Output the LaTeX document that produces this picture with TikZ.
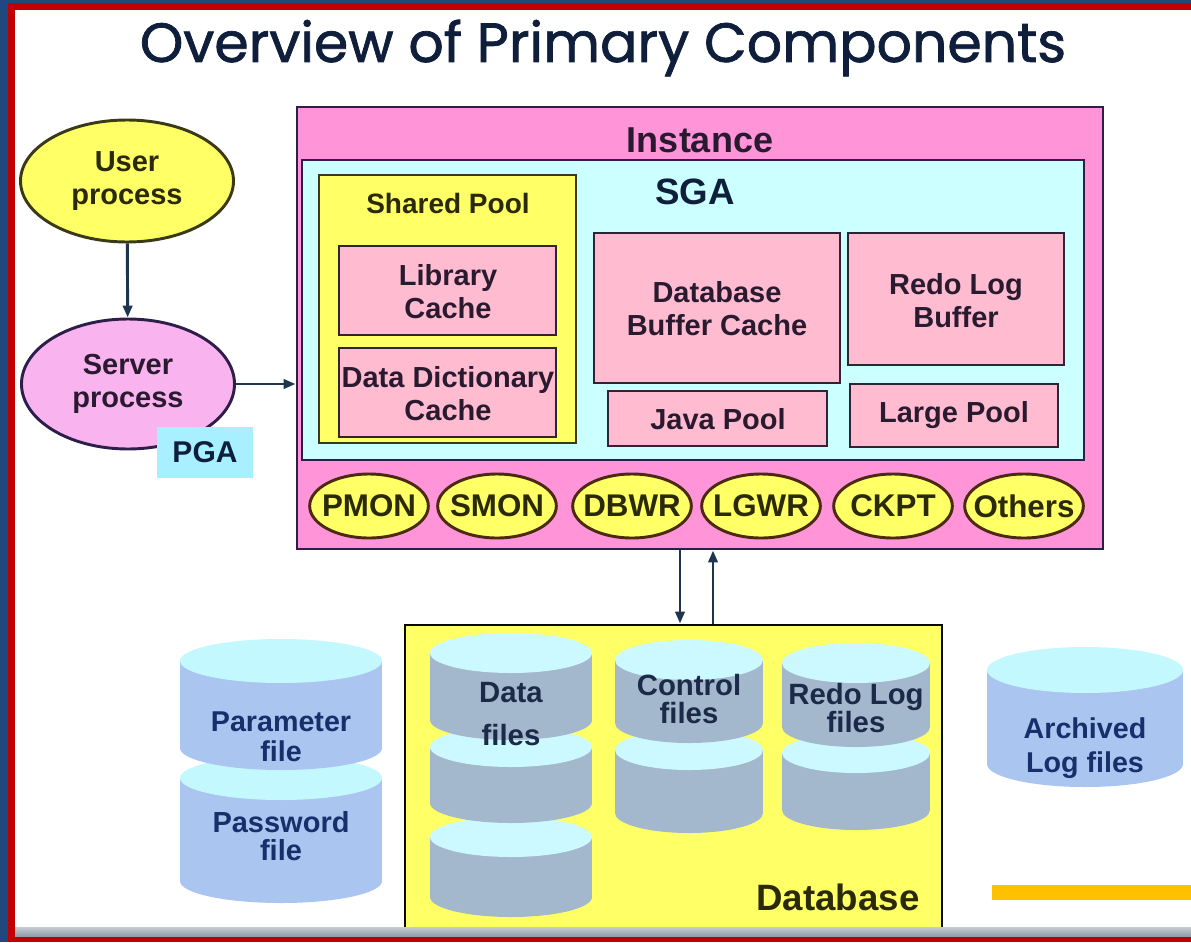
\documentclass[tikz,border=0pt]{standalone}
\usepackage{fontspec}
\setmainfont{Liberation Sans}
\newfontfamily\titlefont[FakeBold=1.3]{Poppins}
\usetikzlibrary{fit,arrows.meta,shapes.geometric}

\definecolor{frameblue}{HTML}{1F497D}
\definecolor{framered}{HTML}{C00000}
\definecolor{barlight}{HTML}{C4CBD2}
\definecolor{bardark}{HTML}{8E99A4}
\definecolor{titleink}{HTML}{0F1E3A}
\definecolor{instfill}{HTML}{FF94D8}
\definecolor{instline}{HTML}{2D1E4A}
\definecolor{sgafill}{HTML}{CCFFFF}
\definecolor{ylw}{HTML}{FFFF66}
\definecolor{olive}{HTML}{3A3A18}
\definecolor{pinkfill}{HTML}{FFBBD0}
\definecolor{pinkline}{HTML}{2E2433}
\definecolor{pinkink}{HTML}{2A1A30}
\definecolor{procline}{HTML}{4A2A10}
\definecolor{procink}{HTML}{2A2A08}
\definecolor{srvfill}{HTML}{F9B4F0}
\definecolor{pgafill}{HTML}{A8F0FF}
\definecolor{arrowink}{HTML}{1E3550}
\definecolor{dbbody}{HTML}{A3B8CC}
\definecolor{dbtop}{HTML}{CCF8FF}
\definecolor{dbink}{HTML}{1A2A48}
\definecolor{filebody}{HTML}{A9C5F0}
\definecolor{filetop}{HTML}{C4F8FF}
\definecolor{fileink}{HTML}{15306A}
\definecolor{goldbar}{HTML}{FFC000}

% one segment of a stacked disk symbol: centre x, top y, bottom y, radii, colours
\newcommand\diskseg[7]{%
  \fill[#6] (#1-#4,#2) rectangle (#1+#4,#3);
  \fill[#6] (#1,#3) ellipse [x radius=#4, y radius=#5];
  \fill[#7] (#1,#2) ellipse [x radius=#4, y radius=#5];}

\newcommand\lblfont{\fontsize{21.75pt}{24.75pt}\selectfont\bfseries}

\begin{document}
\begin{tikzpicture}[x=0.75pt,y=-0.75pt,
  box/.style={draw=pinkline, fill=pinkfill, line width=2.2pt, inner sep=0pt},
  boxlbl/.style={align=center, text=pinkink, font=\lblfont, inner sep=0pt},
  procell/.style={ellipse, draw=procline, fill=ylw, line width=2.2pt,
    minimum width=89pt, minimum height=48pt, inner sep=0pt},
  proclbl/.style={text=procink, inner sep=0pt,
    font=\fontsize{23.5pt}{26pt}\selectfont\bfseries},
  arr/.style={draw=arrowink, line width=2.2pt,
    -{Triangle[length=9pt,width=7pt]}},
  disktext/.style={align=center, text=dbink, inner sep=0pt},
  filetext/.style={align=center, text=fileink, inner sep=0pt}]

\useasboundingbox (0,0) rectangle (1191,942);
\fill[white] (0,0) rectangle (1191,942);

% slide frame
\fill[frameblue] (0,0) rectangle (1191,3);
\fill[frameblue] (0,0) rectangle (8,942);
\fill[framered] (8,3) rectangle (1191,10);
\fill[framered] (8,3) rectangle (15,942);

% title
\node[anchor=base, text=titleink, inner sep=0pt,
  font=\titlefont\fontsize{41.5pt}{44pt}\selectfont] (title) at (603,62)
  {Overview of Primary Components};

% client side
\node[ellipse, draw=olive, fill=ylw, line width=2.2pt, minimum width=159.75pt,
  minimum height=91.5pt, inner sep=0pt, align=center, text=procink,
  font=\lblfont] (user) at (127,181) {User\\process};
\node[ellipse, draw=instline, fill=srvfill, line width=2.2pt, minimum width=159.75pt,
  minimum height=97.5pt, inner sep=0pt, align=center, text=pinkink,
  font=\lblfont] (server) at (128,384) {Server\\process};
\node[fill=pgafill, inner sep=0pt, minimum width=72pt, minimum height=38.25pt,
  text=titleink, font=\fontsize{22.5pt}{26pt}\selectfont\bfseries]
  (pga) at (205,452.5) {PGA};

% instance
\node[draw=instline, fill=instfill, line width=2.2pt, inner sep=0pt,
  fit={(297,107) (1103,549)}] (inst) {};
\node[text=pinkink, font=\fontsize{27pt}{30pt}\selectfont\bfseries] (instlbl)
  at (700,140) {Instance};
\node[draw=instline, fill=sgafill, line width=2.2pt, inner sep=0pt,
  fit={(302,160) (1084,460)}] (sga) {};
\node[text=titleink, font=\fontsize{27.5pt}{30pt}\selectfont\bfseries] (sgalbl)
  at (695,192) {SGA};

% shared pool
\node[draw=olive, fill=ylw, line width=2.2pt, inner sep=0pt,
  fit={(319,175) (576,443)}] (shared) {};
\node[text=procink, font=\fontsize{21pt}{24pt}\selectfont\bfseries] (sharedlbl)
  at (448,203) {Shared Pool};
\node[box, fit={(339,246) (556,335)}] (libc) {};
\node[boxlbl] (libclbl) at (448,292) {Library\\Cache};
\node[box, fit={(339,348) (556,437)}] (ddc) {};
\node[boxlbl] (ddclbl) at (448,394) {Data Dictionary\\Cache};

% other SGA areas
\node[box, fit={(594,233) (840,383)}] (dbc) {};
\node[boxlbl] (dbclbl) at (717,309) {Database\\Buffer Cache};
\node[box, fit={(848,233) (1064,365)}] (rlb) {};
\node[boxlbl] (rlblbl) at (956,301) {Redo Log\\Buffer};
\node[box, fit={(608,391) (827,446)}] (java) {};
\node[boxlbl] (javalbl) at (718,419) {Java Pool};
\node[box, fit={(850,384) (1058,447)}] (large) {};
\node[boxlbl] (largelbl) at (954,415) {Large Pool};

% background processes
\foreach \nm/\cx/\txt in {pmon/369/PMON, smon/497/SMON, dbwr/632/DBWR,
    lgwr/761/LGWR, ckpt/893/CKPT, others/1024/Others} {
  \node[procell] (\nm) at (\cx,506) {};
  \node[proclbl] (\nm lbl) at (\nm.center) {\txt};
}

% database
\node[draw=black!85!olive, fill=ylw, line width=2.2pt, inner sep=0pt,
  fit={(405,625) (942,935)}] (db) {};
\node[text=procink, font=\fontsize{27.5pt}{30pt}\selectfont\bfseries] (dblbl)
  at (838,897) {Database};

% data files
\diskseg{511}{837}{897}{81}{20}{dbbody}{dbtop}
\diskseg{511}{747}{803}{81}{20}{dbbody}{dbtop}
\diskseg{511}{653}{720}{81}{20}{dbbody}{dbtop}
\node[disktext, font=\fontsize{22pt}{32pt}\selectfont\bfseries] (datafiles)
  at (511,714) {Data\\files};

% control files
\diskseg{689}{750}{813}{74}{20}{dbbody}{dbtop}
\diskseg{689}{660}{723}{74}{20}{dbbody}{dbtop}
\node[disktext, font=\fontsize{22pt}{20.5pt}\selectfont\bfseries] (ctlfiles)
  at (689,699) {Control\\files};

% redo log files
\diskseg{856}{753}{810}{74}{20}{dbbody}{dbtop}
\diskseg{856}{663}{727}{74}{20}{dbbody}{dbtop}
\node[disktext, font=\fontsize{22pt}{20.5pt}\selectfont\bfseries] (redofiles)
  at (856,708) {Redo Log\\files};

% parameter and password files
\diskseg{281}{778}{881}{101}{22}{filebody}{filetop}
\diskseg{281}{661}{748}{101}{22}{filebody}{filetop}
\node[filetext, font=\fontsize{21.5pt}{22.5pt}\selectfont\bfseries] (paramfile)
  at (281,737) {Parameter\\file};
\node[filetext, font=\fontsize{21.75pt}{21pt}\selectfont\bfseries] (pwfile)
  at (281,836) {Password\\file};

% archived log files
\diskseg{1085}{670}{764}{98}{23}{filebody}{filetop}
\node[filetext, font=\fontsize{21.5pt}{25.5pt}\selectfont\bfseries] (archfiles)
  at (1085,748) {Archived\\Log files};

% connectors
\draw[arr] (user) -- (server);
\draw[arr] (server.east) -- (server.east -| inst.west);
\coordinate (dnx) at (680,0);
\coordinate (upx) at (713,0);
\draw[arr] (dnx |- inst.south) -- (dnx |- db.north);
\draw[arr] (upx |- db.north) -- (upx |- inst.south);

% bottom bars
\fill[goldbar] (992,885) rectangle (1191,900);
\shade[top color=barlight, bottom color=bardark] (15,927) rectangle (1191,937);
\fill[framered] (8,937) rectangle (1191,942);
\end{tikzpicture}
\end{document}
